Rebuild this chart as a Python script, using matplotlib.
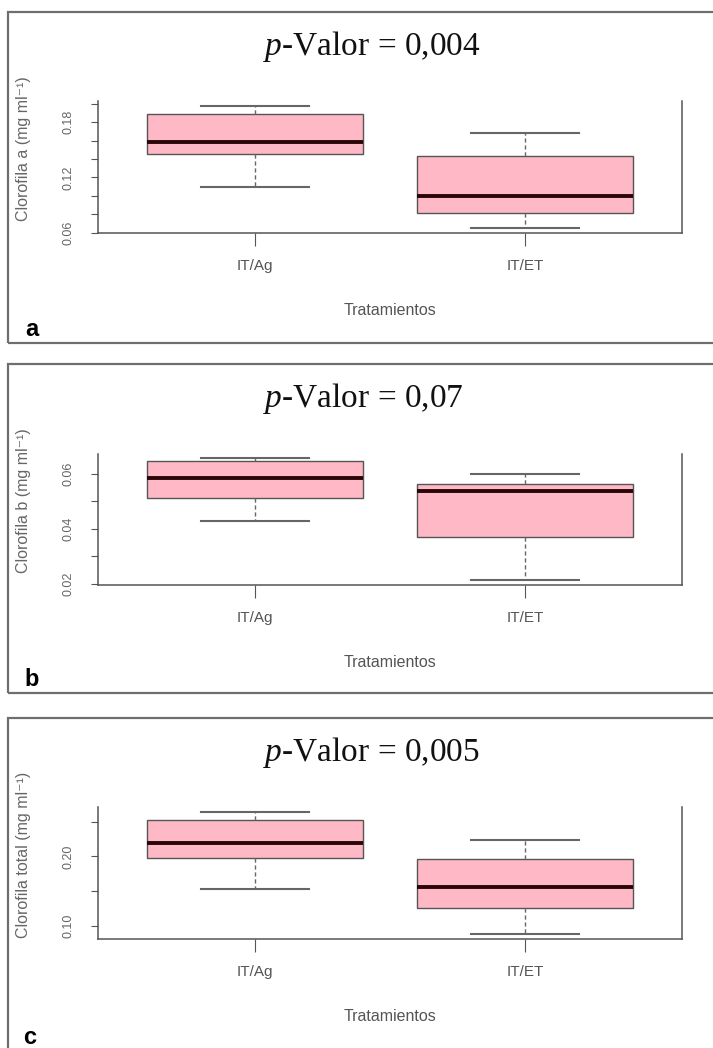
import matplotlib
matplotlib.use("Agg")
import matplotlib.pyplot as plt
from matplotlib.patches import Rectangle

# datos (bigotes, cuartiles, mediana) por tratamiento
tratamientos = ["IT/Ag", "IT/ET"]

# a) Clorofila a
cla_whislo = [0.110, 0.065]
cla_q1 = [0.1455, 0.081]
cla_med = [0.159, 0.100]
cla_q3 = [0.1887, 0.1434]
cla_whishi = [0.1977, 0.168]
cla_ticks = [0.06, 0.08, 0.10, 0.12, 0.14, 0.16, 0.18, 0.20]
cla_ticklabels = ["0.06", "", "", "0.12", "", "", "0.18", ""]

# b) Clorofila b
clb_whislo = [0.0428, 0.0214]
clb_q1 = [0.0511, 0.0371]
clb_med = [0.0583, 0.0538]
clb_q3 = [0.0647, 0.0562]
clb_whishi = [0.0655, 0.0599]
clb_ticks = [0.02, 0.03, 0.04, 0.05, 0.06]
clb_ticklabels = ["0.02", "", "0.04", "", "0.06"]

# c) Clorofila total
clt_whislo = [0.1532, 0.088]
clt_q1 = [0.1973, 0.1254]
clt_med = [0.2188, 0.1565]
clt_q3 = [0.2523, 0.1963]
clt_whishi = [0.2634, 0.2236]
clt_ticks = [0.10, 0.15, 0.20, 0.25]
clt_ticklabels = ["0.10", "", "0.20", ""]

titulos = ["0,004", "0,07", "0,005"]
ylabels = ["Clorofila a (mg ml⁻¹)", "Clorofila b (mg ml⁻¹)", "Clorofila total (mg ml⁻¹)"]
letras = ["a", "b", "c"]

plt.rcParams["mathtext.fontset"] = "custom"
plt.rcParams["mathtext.rm"] = "Liberation Serif"
plt.rcParams["mathtext.it"] = "Liberation Serif:italic"

W, H = 713, 1048
fig = plt.figure(figsize=(W / 100, H / 100), dpi=100)


def rect_px(left, top, right, bottom):
    return [left / W, 1 - bottom / H, (right - left) / W, (bottom - top) / H]


sans = ["Liberation Sans", "DejaVu Sans"]
gris = "#555555"

paneles = [
    (cla_whislo, cla_q1, cla_med, cla_q3, cla_whishi, cla_ticks, cla_ticklabels),
    (clb_whislo, clb_q1, clb_med, clb_q3, clb_whishi, clb_ticks, clb_ticklabels),
    (clt_whislo, clt_q1, clt_med, clt_q3, clt_whishi, clt_ticks, clt_ticklabels),
]
ejes_px = [(98, 101, 682, 233), (98, 453.5, 682, 585), (98, 807.4, 682, 939)]
marcos_px = [(8, 12, 730, 343), (8, 364, 730, 693), (8, 718, 730, 1070)]
letras_px = [(32, 329), (32, 680), (30, 1038)]

for i, (wlo, q1, med, q3, whi, ticks, tlabels) in enumerate(paneles):
    # marco del panel
    l, t, r, b = marcos_px[i]
    fig.add_artist(Rectangle((l / W, 1 - b / H), (r - l) / W, (b - t) / H,
                             transform=fig.transFigure, fill=False,
                             edgecolor="#6e6e6e", linewidth=1.6))

    ax = fig.add_axes(rect_px(*ejes_px[i]))
    stats = []
    for k in range(len(tratamientos)):
        stats.append(dict(med=med[k], q1=q1[k], q3=q3[k], whislo=wlo[k],
                          whishi=whi[k], fliers=[], label=tratamientos[k]))
    ax.bxp(stats, positions=[1, 2], widths=0.8, capwidths=0.4,
           patch_artist=True, showfliers=False,
           boxprops=dict(facecolor="#FFB9C6", edgecolor="#555555", linewidth=1.0),
           medianprops=dict(color="#2a0608", linewidth=2.8, solid_capstyle="butt"),
           whiskerprops=dict(color="#666666", linestyle=(0, (3, 2)), linewidth=1.0),
           capprops=dict(color="#666666", linewidth=1.5))

    lo, hi = min(wlo), max(whi)
    pad = 0.04 * (hi - lo)
    ax.set_ylim(lo - pad, hi + pad)
    ax.set_xlim(0.42, 2.58)

    for s in ["left", "bottom", "right"]:
        ax.spines[s].set_color(gris)
        ax.spines[s].set_linewidth(1.1)
    ax.spines["top"].set_visible(False)

    ax.set_yticks(ticks)
    ax.set_yticklabels(tlabels, family=sans, fontsize=9, color="#666666",
                       rotation=90, va="center")
    ax.set_xticks([1, 2])
    ax.set_xticklabels(tratamientos, family=sans, fontsize=11, color=gris)
    ax.tick_params(axis="y", length=5, pad=12, color=gris)
    ax.tick_params(axis="x", length=9, pad=10, color=gris)

    ax.set_xlabel("Tratamientos", family=sans, fontsize=11.5, color=gris, va="center")
    ax.xaxis.set_label_coords(0.5, -0.59)
    ax.set_ylabel(ylabels[i], family=sans, fontsize=11.5, color="#666666", va="center")
    ax.yaxis.set_label_coords(-0.127, 0.64)

    ax.text(0.282, 1.35, r"$p$-Valor = " + titulos[i], transform=ax.transAxes,
            family="Liberation Serif", fontsize=24, color="#111111",
            ha="left", va="baseline")

    lx, ly = letras_px[i]
    fig.text(lx / W, 1 - ly / H, letras[i], family=sans, fontsize=17,
             fontweight="bold", color="black", ha="center", va="center")

fig.savefig("out.png", dpi=100)
